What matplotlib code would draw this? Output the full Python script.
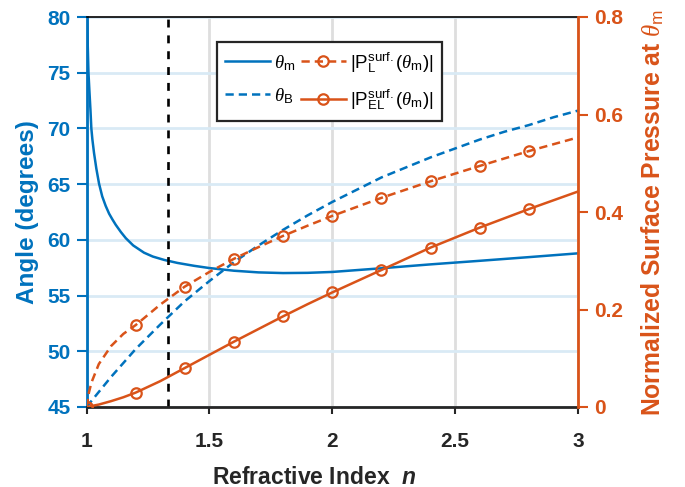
import matplotlib
matplotlib.use("Agg")
import matplotlib.pyplot as plt

plt.rcParams['font.family'] = ['Liberation Sans', 'DejaVu Sans']
plt.rcParams['mathtext.fontset'] = 'custom'
plt.rcParams['mathtext.rm'] = 'Liberation Sans'
plt.rcParams['mathtext.it'] = 'Liberation Serif:italic'
plt.rcParams['mathtext.bf'] = 'Liberation Sans:bold'
plt.rcParams['mathtext.bfit'] = 'Liberation Sans:italic:bold'

# ---- data ----
n_m = [1.002, 1.005, 1.008, 1.012, 1.016, 1.0197, 1.024, 1.0306, 1.04, 1.051, 1.064,
       1.078, 1.092, 1.105, 1.119, 1.14, 1.16, 1.19, 1.234, 1.27, 1.316, 1.37, 1.438,
       1.5, 1.6, 1.7, 1.8, 1.9, 2.0, 2.2, 2.4, 2.6, 2.8, 3.0]
theta_m = [80, 77.5, 75, 73.3, 71.7, 70, 69.0, 67.8, 66.4, 65.05, 63.9,
           63.05, 62.35, 61.85, 61.35, 60.7, 60.15, 59.5, 58.85, 58.5, 58.2, 57.93, 57.67,
           57.47, 57.23, 57.08, 57.02, 57.04, 57.12, 57.45, 57.8, 58.12, 58.45, 58.79]

n_B = [1.0, 1.1, 1.2, 1.3, 1.4, 1.5, 1.6, 1.7, 1.8, 1.9, 2.0, 2.1, 2.2, 2.3, 2.4,
       2.5, 2.6, 2.7, 2.8, 2.9, 3.0]
theta_B = [45, 47.7, 50.2, 52.4, 54.5, 56.3, 58.0, 59.5, 60.9, 62.2, 63.4, 64.5, 65.6,
           66.5, 67.4, 68.2, 69.0, 69.7, 70.3, 71.0, 71.6]

n_P = [1.0, 1.01, 1.02, 1.05, 1.1, 1.15, 1.2, 1.3, 1.4, 1.5, 1.6, 1.7, 1.8, 1.9,
       2.0, 2.2, 2.4, 2.6, 2.8, 3.0]
P_L = [0, 0.03, 0.05, 0.088, 0.125, 0.15, 0.168, 0.21, 0.247, 0.277, 0.304, 0.328,
       0.351, 0.372, 0.392, 0.429, 0.463, 0.4945, 0.525, 0.553]
P_EL = [0, 0.001, 0.002, 0.005, 0.012, 0.02, 0.0295, 0.053, 0.080, 0.107, 0.134, 0.160,
        0.186, 0.211, 0.235, 0.281, 0.327, 0.368, 0.406, 0.442]
n_markers = [1.0, 1.2, 1.4, 1.6, 1.8, 2.0, 2.2, 2.4, 2.6, 2.8]

n_water = 1.33

x_ticks = [1, 1.5, 2, 2.5, 3]
x_ticklabels = ['1', '1.5', '2', '2.5', '3']
yl_ticks = [45, 50, 55, 60, 65, 70, 75, 80]
yr_ticks = [0, 0.2, 0.4, 0.6, 0.8]
yr_ticklabels = ['0', '0.2', '0.4', '0.6', '0.8']

BLUE = '#0072BD'
ORANGE = '#D95319'
DARK = '#262626'

fig = plt.figure(figsize=(6.85, 4.87), dpi=100)
ax = fig.add_axes([86.5/685, 80/487, 491.5/685, 390/487])
ax2 = ax.twinx()

lw = 1.8
dsh = (3.3, 2.0)
ax.plot(n_m, theta_m, color=BLUE, lw=lw, label=r'$\theta_\mathrm{m}$')
ax.plot(n_B, theta_B, color=BLUE, lw=lw, dashes=dsh, label=r'$\theta_\mathrm{B}$')
ax.plot([n_water, n_water], [45, 80], color='black', lw=1.9, dashes=(3.0, 3.0))

mk = [n_P.index(v) for v in n_markers]
ax2.plot(n_P, P_L, color=ORANGE, lw=lw, dashes=dsh, marker='o', markersize=7.5,
         mfc='none', mew=1.6, markevery=mk,
         label=r'$|\mathrm{P}^{\mathrm{surf.}}_{\mathrm{L}}(\theta_\mathrm{m})|$')
ax2.plot(n_P, P_EL, color=ORANGE, lw=lw, marker='o', markersize=7.5,
         mfc='none', mew=1.6, markevery=mk,
         label=r'$|\mathrm{P}^{\mathrm{surf.}}_{\mathrm{EL}}(\theta_\mathrm{m})|$')

ax.set_xlim(1, 3)
ax.set_ylim(45, 80)
ax2.set_ylim(0, 0.8)

ax.set_xticks(x_ticks)
ax.set_xticklabels(x_ticklabels)
ax.set_yticks(yl_ticks)
ax2.set_yticks(yr_ticks)
ax2.set_yticklabels(yr_ticklabels)

# grid
ax.set_axisbelow(True)
ax.yaxis.grid(True, color='#d9eaf5', lw=2)
ax.xaxis.grid(True, color='#dedede', lw=2)

# spines
ax.spines['right'].set_visible(False)
ax.spines['left'].set_color(BLUE)
ax.spines['left'].set_linewidth(2)
ax.spines['bottom'].set_color(DARK)
ax.spines['bottom'].set_linewidth(2)
ax.spines['top'].set_color('black')
ax.spines['top'].set_linewidth(1.2)
for s in ['left', 'top', 'bottom']:
    ax2.spines[s].set_visible(False)
ax2.spines['right'].set_color(ORANGE)
ax2.spines['right'].set_linewidth(2)

tick_fs = 15
ax.tick_params(axis='x', direction='out', length=5, width=1.5, color=DARK,
               labelcolor=DARK, labelsize=tick_fs, pad=13)
ax.tick_params(axis='y', direction='out', length=7.5, width=1.5, color=BLUE,
               labelcolor=BLUE, labelsize=tick_fs, pad=4)
ax2.tick_params(axis='y', direction='out', length=7.5, width=1.5, color=ORANGE,
                labelcolor=ORANGE, labelsize=tick_fs, pad=4)
for lab in ax.get_xticklabels() + ax.get_yticklabels() + ax2.get_yticklabels():
    lab.set_fontweight('bold')

ax.set_xlabel(r'Refractive Index  $\mathbfit{n}$', fontsize=16.5, fontweight='bold', color=DARK)
ax.xaxis.set_label_coords(0.464, -0.15)
ax.set_ylabel('Angle (degrees)', fontsize=17.5, fontweight='bold', color=BLUE, labelpad=6)
ax2.set_ylabel(r'Normalized Surface Pressure at $\theta_\mathrm{m}$', fontsize=17.8,
               fontweight='bold', color=ORANGE, labelpad=12)

h1, l1 = ax.get_legend_handles_labels()
h2, l2 = ax2.get_legend_handles_labels()
leg = ax2.legend(h1 + h2, l1 + l2, ncol=2, loc='upper left',
                 bbox_to_anchor=(0.265, 0.937), fontsize=13.5, frameon=True,
                 fancybox=False, edgecolor='#262626', framealpha=1,
                 handlelength=2.4, handletextpad=0.2, columnspacing=0.3,
                 borderpad=0.45, labelspacing=0.7, borderaxespad=0)
leg.get_frame().set_linewidth(1.6)

fig.savefig('out.png', dpi=100)
